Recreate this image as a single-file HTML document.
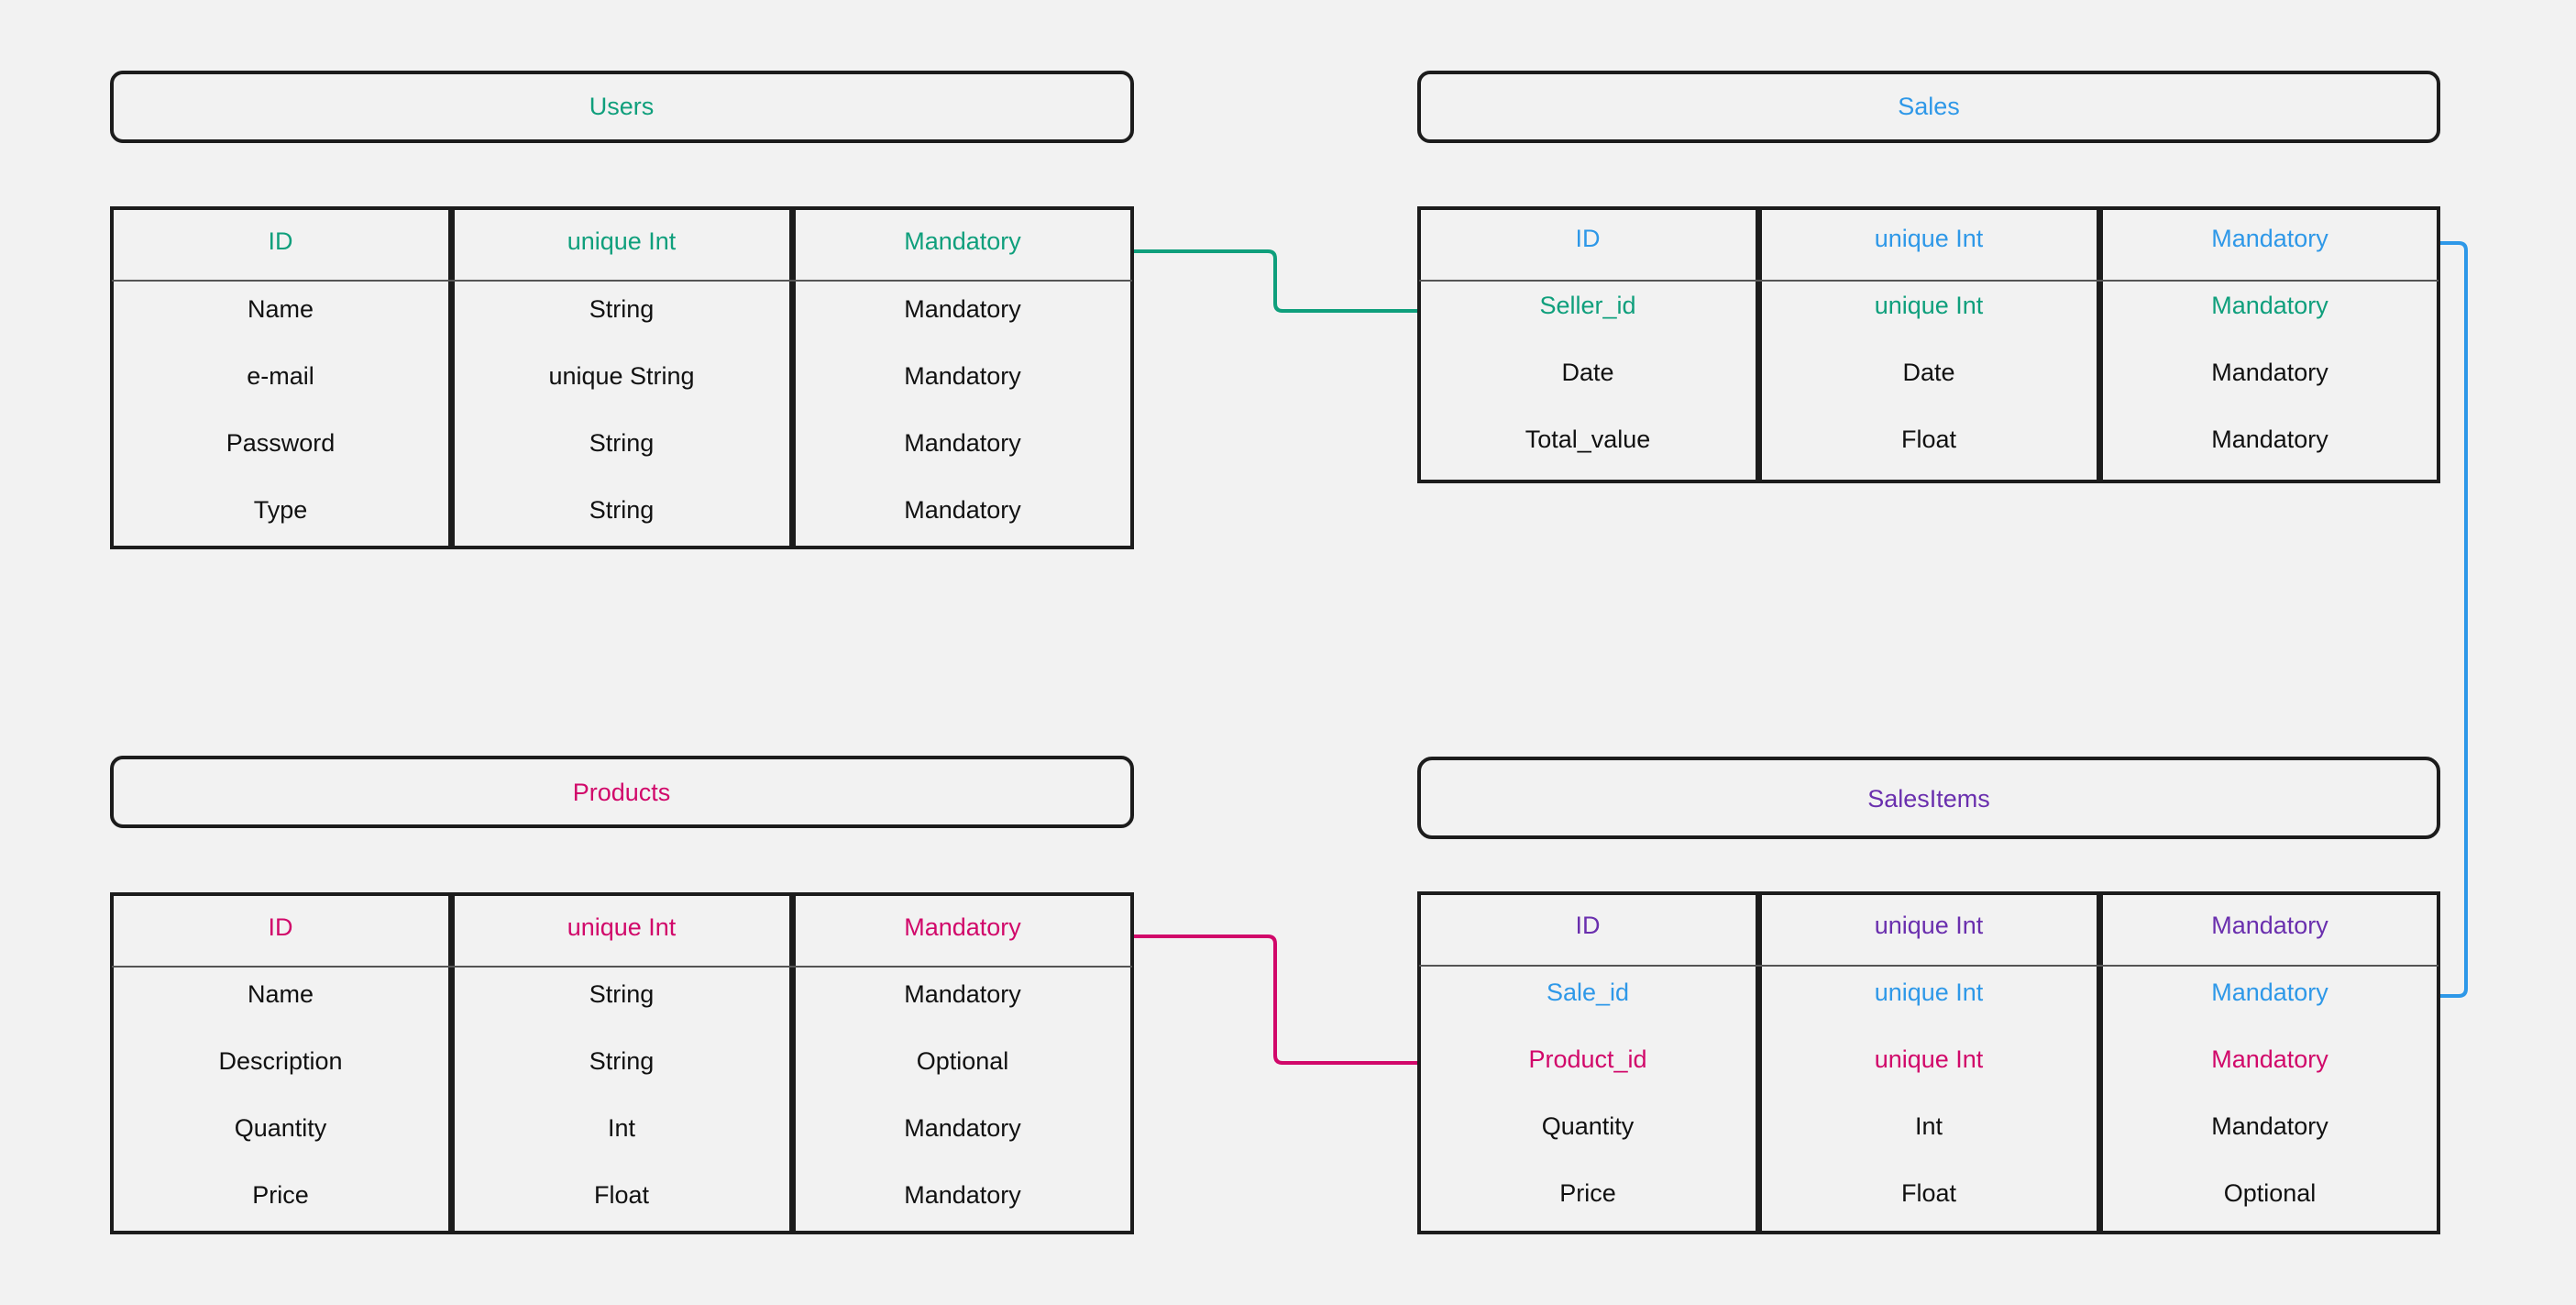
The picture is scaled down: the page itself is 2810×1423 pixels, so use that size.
<!DOCTYPE html>
<html><head><meta charset="utf-8"><style>
html,body{margin:0;padding:0;background:#f2f2f2;}
svg{display:block}
text{font-family:"Liberation Sans",sans-serif;font-size:27px;text-anchor:middle;dominant-baseline:central;fill:#111}
.g{fill:#0f9f7c}.b{fill:#2e98e8}.p{fill:#d1086a}.u{fill:#6a2fae}
rect{fill:none;stroke:#1c1c1c;stroke-width:4}
.hl{stroke:#555;stroke-width:2}
</style></head><body>
<svg width="2810" height="1423" viewBox="0 0 2810 1423" xmlns="http://www.w3.org/2000/svg">
<rect x="0" y="0" width="2810" height="1423" style="fill:#f2f2f2;stroke:none"/>
<!-- connectors -->
<path d="M1237 274 H1383 Q1391 274 1391 282 V331 Q1391 339 1399 339 H1548" fill="none" stroke="#0f9f7c" stroke-width="4"/>
<path d="M1237 1021 H1383 Q1391 1021 1391 1029 V1151 Q1391 1159 1399 1159 H1548" fill="none" stroke="#d1086a" stroke-width="4"/>
<path d="M2662 265 H2682 Q2690 265 2690 273 V1078 Q2690 1086 2682 1086 H2662" fill="none" stroke="#2e98e8" stroke-width="4"/>

<!-- Users -->
<rect x="122" y="79" width="1113" height="75" rx="12"/>
<text x="678" y="116" class="g">Users</text>
<rect x="122" y="227" width="369" height="370"/><rect x="494" y="227" width="369" height="370"/><rect x="866" y="227" width="369" height="370"/>
<line x1="122" y1="306" x2="1235" y2="306" class="hl" stroke="#555" stroke-width="2"/>
<text x="306" y="263" class="g">ID</text><text x="678" y="263" class="g">unique Int</text><text x="1050" y="263" class="g">Mandatory</text>
<text x="306" y="337">Name</text><text x="678" y="337">String</text><text x="1050" y="337">Mandatory</text>
<text x="306" y="410">e-mail</text><text x="678" y="410">unique String</text><text x="1050" y="410">Mandatory</text>
<text x="306" y="483">Password</text><text x="678" y="483">String</text><text x="1050" y="483">Mandatory</text>
<text x="306" y="556">Type</text><text x="678" y="556">String</text><text x="1050" y="556">Mandatory</text>

<!-- Sales -->
<rect x="1548" y="79" width="1112" height="75" rx="12"/>
<text x="2104" y="116" class="b">Sales</text>
<rect x="1548" y="227" width="369" height="298"/><rect x="1920" y="227" width="369" height="298"/><rect x="2292" y="227" width="368" height="298"/>
<line x1="1548" y1="306" x2="2660" y2="306" stroke="#555" stroke-width="2"/>
<text x="1732" y="260" class="b">ID</text><text x="2104" y="260" class="b">unique Int</text><text x="2476" y="260" class="b">Mandatory</text>
<text x="1732" y="333" class="g">Seller_id</text><text x="2104" y="333" class="g">unique Int</text><text x="2476" y="333" class="g">Mandatory</text>
<text x="1732" y="406">Date</text><text x="2104" y="406">Date</text><text x="2476" y="406">Mandatory</text>
<text x="1732" y="479">Total_value</text><text x="2104" y="479">Float</text><text x="2476" y="479">Mandatory</text>

<!-- Products -->
<rect x="122" y="826" width="1113" height="75" rx="12"/>
<text x="678" y="864" class="p">Products</text>
<rect x="122" y="975" width="369" height="369"/><rect x="494" y="975" width="369" height="369"/><rect x="866" y="975" width="369" height="369"/>
<line x1="122" y1="1054" x2="1235" y2="1054" stroke="#555" stroke-width="2"/>
<text x="306" y="1011" class="p">ID</text><text x="678" y="1011" class="p">unique Int</text><text x="1050" y="1011" class="p">Mandatory</text>
<text x="306" y="1084">Name</text><text x="678" y="1084">String</text><text x="1050" y="1084">Mandatory</text>
<text x="306" y="1157">Description</text><text x="678" y="1157">String</text><text x="1050" y="1157">Optional</text>
<text x="306" y="1230">Quantity</text><text x="678" y="1230">Int</text><text x="1050" y="1230">Mandatory</text>
<text x="306" y="1303">Price</text><text x="678" y="1303">Float</text><text x="1050" y="1303">Mandatory</text>

<!-- SalesItems -->
<rect x="1548" y="827" width="1112" height="86" rx="14"/>
<text x="2104" y="871" class="u">SalesItems</text>
<rect x="1548" y="974" width="369" height="370"/><rect x="1920" y="974" width="369" height="370"/><rect x="2292" y="974" width="368" height="370"/>
<line x1="1548" y1="1053" x2="2660" y2="1053" stroke="#555" stroke-width="2"/>
<text x="1732" y="1009" class="u">ID</text><text x="2104" y="1009" class="u">unique Int</text><text x="2476" y="1009" class="u">Mandatory</text>
<text x="1732" y="1082" class="b">Sale_id</text><text x="2104" y="1082" class="b">unique Int</text><text x="2476" y="1082" class="b">Mandatory</text>
<text x="1732" y="1155" class="p">Product_id</text><text x="2104" y="1155" class="p">unique Int</text><text x="2476" y="1155" class="p">Mandatory</text>
<text x="1732" y="1228">Quantity</text><text x="2104" y="1228">Int</text><text x="2476" y="1228">Mandatory</text>
<text x="1732" y="1301">Price</text><text x="2104" y="1301">Float</text><text x="2476" y="1301">Optional</text>
</svg>
</body></html>
